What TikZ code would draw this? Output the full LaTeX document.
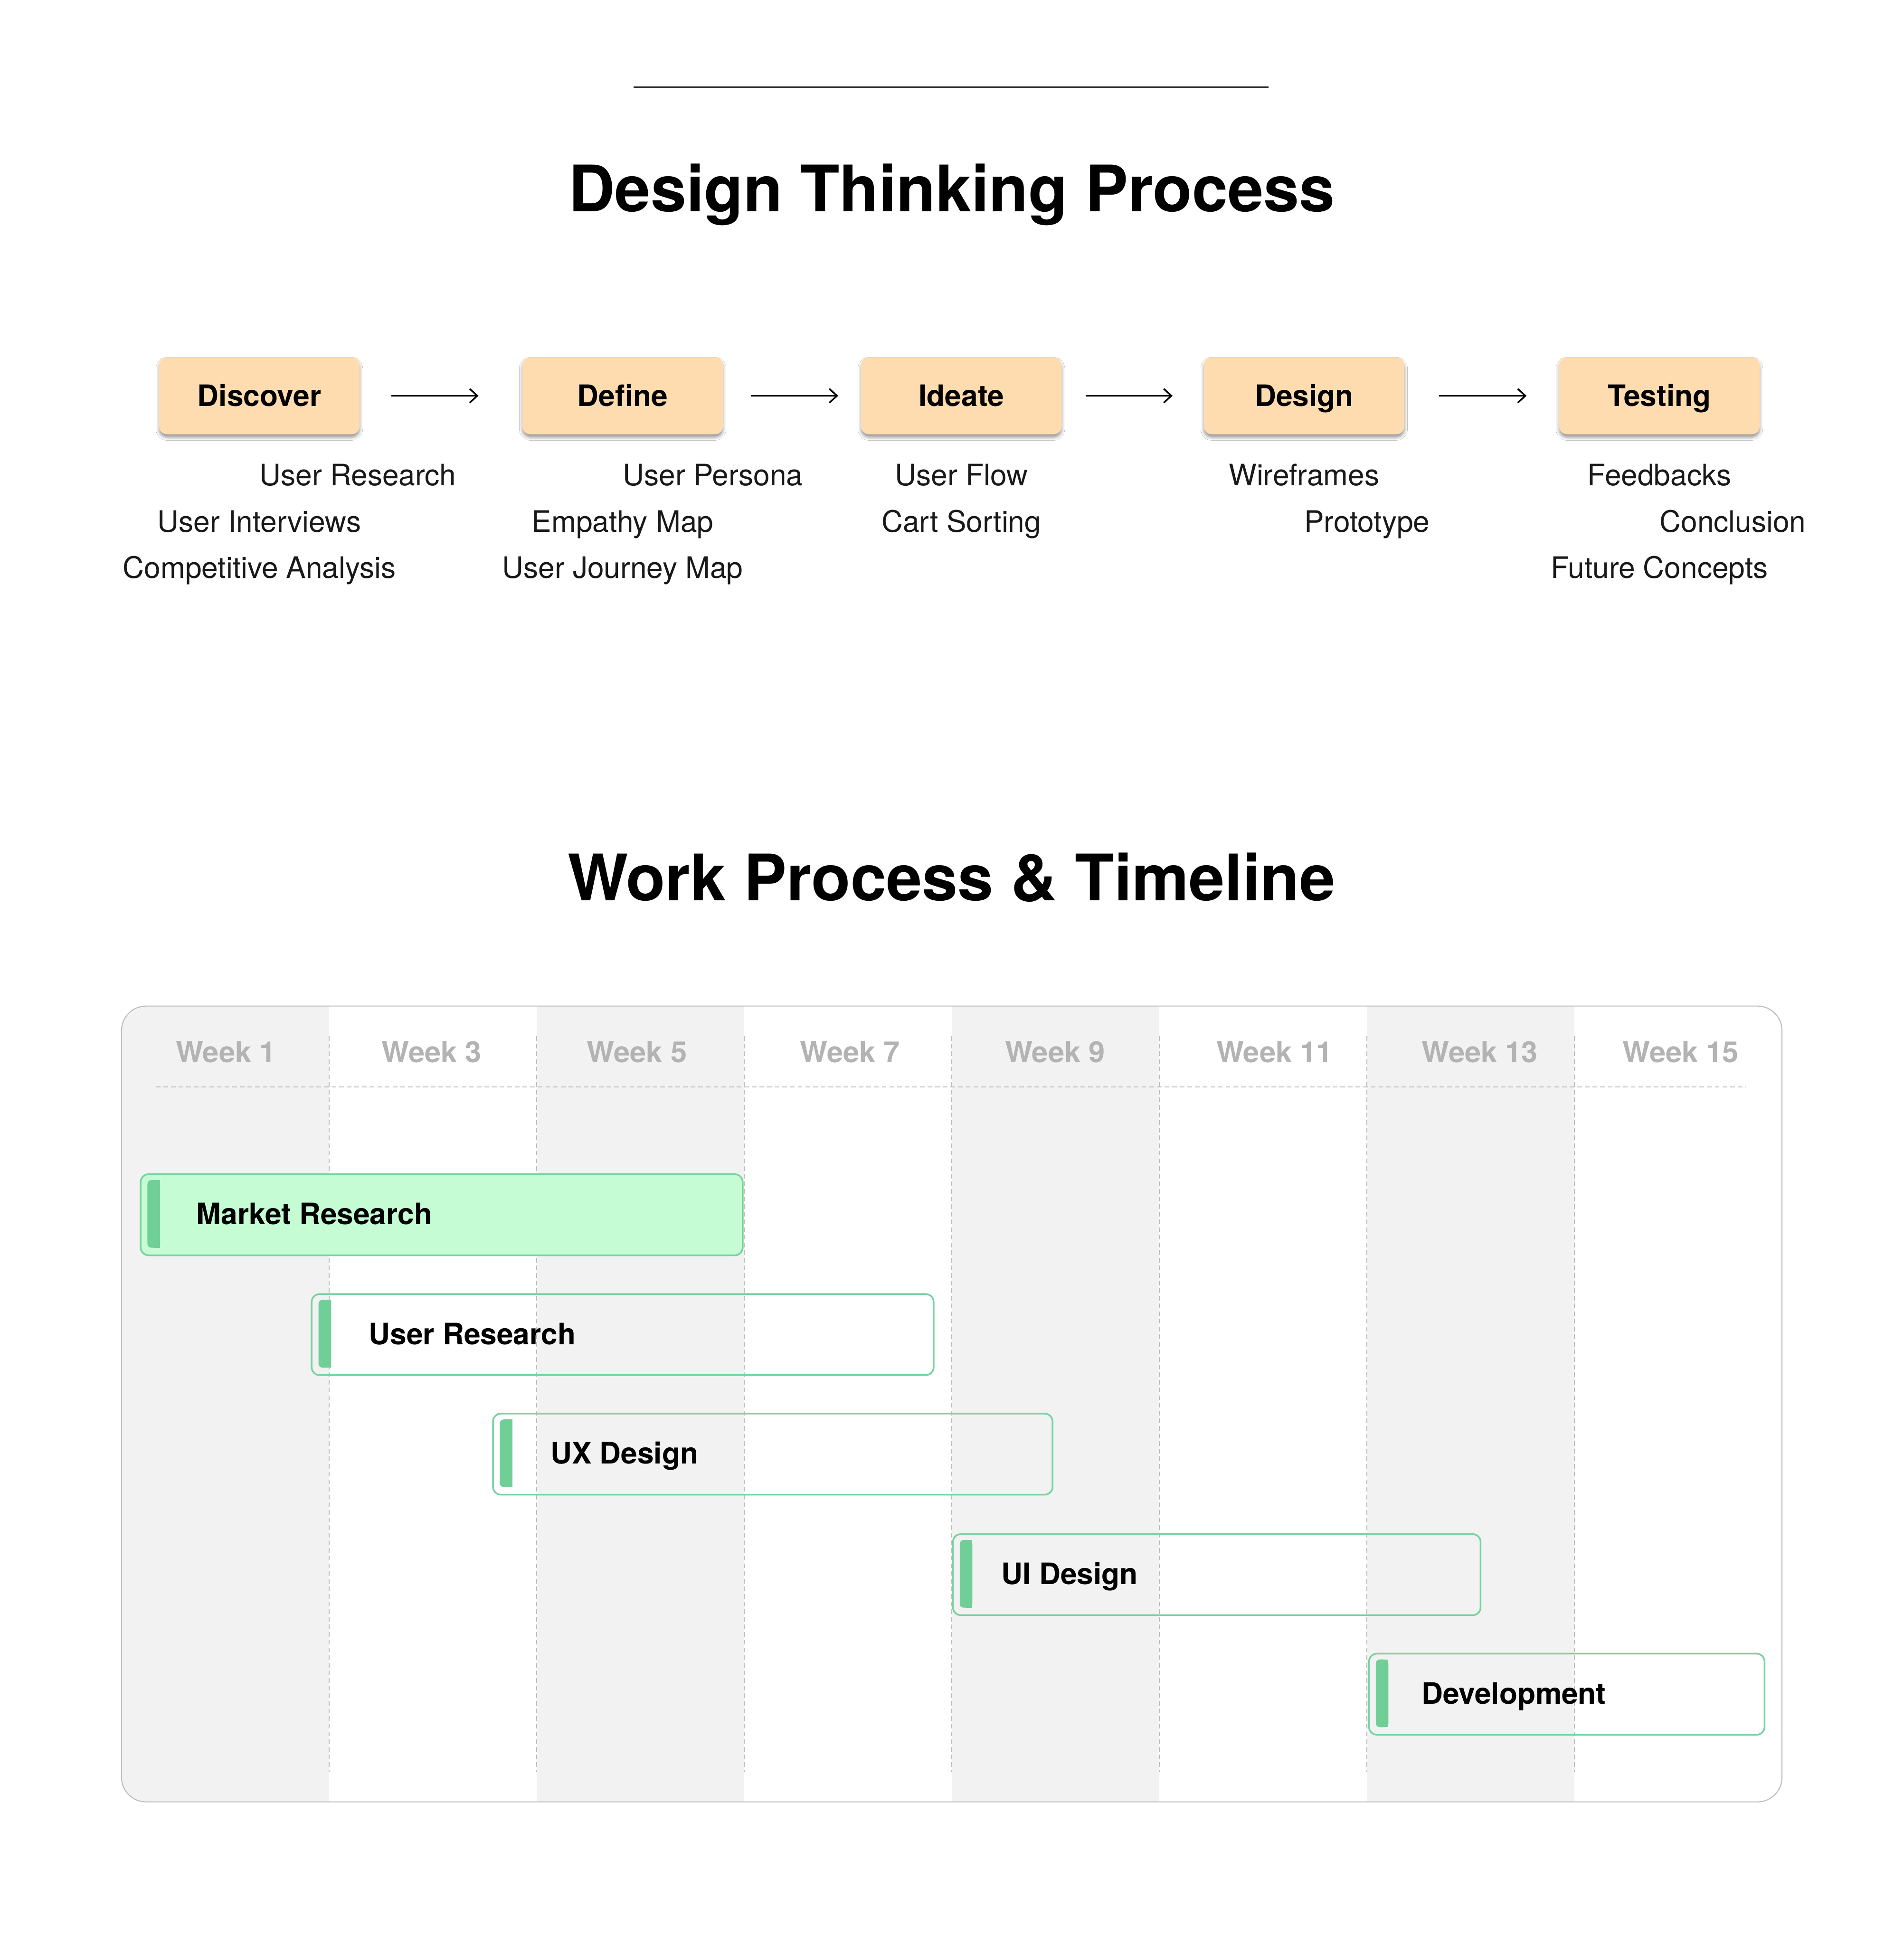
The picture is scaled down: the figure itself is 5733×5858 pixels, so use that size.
\documentclass[tikz,border=0pt]{standalone}
\usepackage{fontspec}
\setmainfont{TeX Gyre Heros}
\usetikzlibrary{arrows.meta,calc,shadows.blur}
\definecolor{peach}{HTML}{FFDCB0}
\definecolor{barline}{HTML}{76D39F}
\definecolor{accentc}{HTML}{6FCF97}
\definecolor{mrfill}{HTML}{C6FCD3}
\definecolor{colgray}{HTML}{F2F2F2}
\definecolor{dashc}{HTML}{BBBBBB}
\definecolor{weekc}{HTML}{B3B3B3}
\definecolor{panelc}{HTML}{BDBDBD}
\definecolor{rulec}{HTML}{333333}
\newcommand\ganttbar[7][]{% [fill], name, left, right, top, label x, label
  \node[barbox, #1, minimum width={(#4-#3)*0.01cm}, anchor=north west] (#2) at (#3,#5) {};
  \coordinate (#2-a) at (#3+23,#5+20);
  \fill[accentc, rounded corners=3.4pt] (#2-a) rectangle ($(#2-a)+(38,204)$);
  \fill[accentc] ($(#2-a)+(19,0)$) rectangle ($(#2-a)+(38,204)$);
  \node[barlabel, anchor=west] (#2-t) at (#6,#5+122) {#7};
}
\begin{document}
\begin{tikzpicture}[x=0.01cm, y=-0.01cm,
  phase/.style={fill=peach, rounded corners=7pt, minimum width=6.04cm, minimum height=2.32cm,
    inner sep=0pt, font=\fontsize{25.3pt}{30pt}\selectfont\bfseries, text height=18.2pt, text depth=0pt,
    blur shadow={shadow xshift=0pt, shadow yshift=-2.6pt, shadow blur radius=2.6pt, shadow opacity=40}},
  item/.style={inner sep=0pt, font=\fontsize{25.3pt}{30pt}\selectfont, text=black!90},
  flowarrow/.style={line width=0.05cm, -{Straight Barb[length=0.23cm, width=0.42cm]}},
  titletext/.style={inner sep=0pt, font=\fontsize{54.9pt}{60pt}\selectfont\bfseries, anchor=base},
  griddash/.style={dashc, line width=0.03cm, dash pattern=on 0.14cm off 0.09cm},
  weeklabel/.style={inner sep=0pt, text=weekc, font=\fontsize{25pt}{30pt}\selectfont\bfseries, text height=18pt, text depth=0pt},
  barbox/.style={draw=barline, line width=0.05cm, rounded corners=6.8pt, minimum height=2.44cm, inner sep=0pt},
  barlabel/.style={inner sep=0pt, font=\fontsize{25.3pt}{30pt}\selectfont\bfseries, text height=18.2pt, text depth=0pt}
]
\useasboundingbox (0,0) rectangle (5733,5858);
\fill[white] (0,0) rectangle (5733,5858);

% top rule
\draw[rulec, line width=0.04cm] (1908,262) -- (3820,262);

% titles
\node[titletext] (t1) at (2866,637) {Design Thinking Process};
\node[titletext] (t2) at (2865,2713) {Work Process \& Timeline};

% phase boxes
\node[phase] (discover) at (781,1192) {Discover};
\node[phase] (define) at (1875,1192) {Define};
\node[phase] (ideate) at (2895,1192) {Ideate};
\node[phase] (design) at (3927,1192) {Design};
\node[phase] (testing) at (4997,1192) {Testing};

% arrows
\draw[flowarrow, shorten <=0.94cm, shorten >=1.31cm] (discover.east) -- (define.west);
\draw[flowarrow, shorten <=0.83cm, shorten >=0.68cm] (define.east) -- (ideate.west);
\draw[flowarrow, shorten <=0.71cm, shorten >=0.93cm] (ideate.east) -- (design.west);
\draw[flowarrow, shorten <=1.03cm, shorten >=0.97cm] (design.east) -- (testing.west);

% sub items
\node[item, anchor=base west] (d1) at (781,1463) {User Research};
\node[item, anchor=base] (d2) at (781,1602) {User Interviews};
\node[item, anchor=base] (d3) at (781,1741) {Competitive Analysis};
\node[item, anchor=base west] (f1) at (1875,1463) {User Persona};
\node[item, anchor=base] (f2) at (1875,1602) {Empathy Map};
\node[item, anchor=base] (f3) at (1875,1741) {User Journey Map};
\node[item, anchor=base] (i1) at (2895,1463) {User Flow};
\node[item, anchor=base] (i2) at (2895,1602) {Cart Sorting};
\node[item, anchor=base] (g1) at (3927,1463) {Wireframes};
\node[item, anchor=base west] (g2) at (3927,1602) {Prototype};
\node[item, anchor=base] (s1) at (4997,1463) {Feedbacks};
\node[item, anchor=base west] (s2) at (4997,1602) {Conclusion};
\node[item, anchor=base] (s3) at (4997,1741) {Future Concepts};

% timeline panel
\fill[white, rounded corners=21pt] (366,3030) rectangle (5366,5427);
\begin{scope}
  \clip[rounded corners=21pt] (366,3030) rectangle (5366,5427);
  \foreach \k in {0,2,4,6}
    \fill[colgray] ({366+625*\k},3030) rectangle ({366+625*(\k+1)},5427);
\end{scope}
\draw[panelc, line width=0.03cm, rounded corners=21pt] (366,3030) rectangle (5366,5427);

% grid
\foreach \k in {1,...,7}
  \draw[griddash] ({366+625*\k},3121) -- ({366+625*\k},5338);
\draw[griddash] (469,3274) -- (5257,3274);

% week labels
\foreach \x/\w in {680/1,1300/3,1918/5,2560/7,3177/9,3838/11,4456/13,5061/15}
  \node[weeklabel] (wk\w) at (\x,3169) {Week \w};

% bars
\ganttbar[fill=mrfill]{b1}{421}{2234}{3534}{591}{Market Research}
\ganttbar{b2}{936}{2809}{3895}{1110}{User Research}
\ganttbar{b3}{1482}{3167}{4255}{1657}{UX Design}
\ganttbar{b4}{2867}{4456}{4618}{3015}{UI Design}
\ganttbar{b5}{4120}{5311}{4978}{4280}{Development}
\end{tikzpicture}
\end{document}
